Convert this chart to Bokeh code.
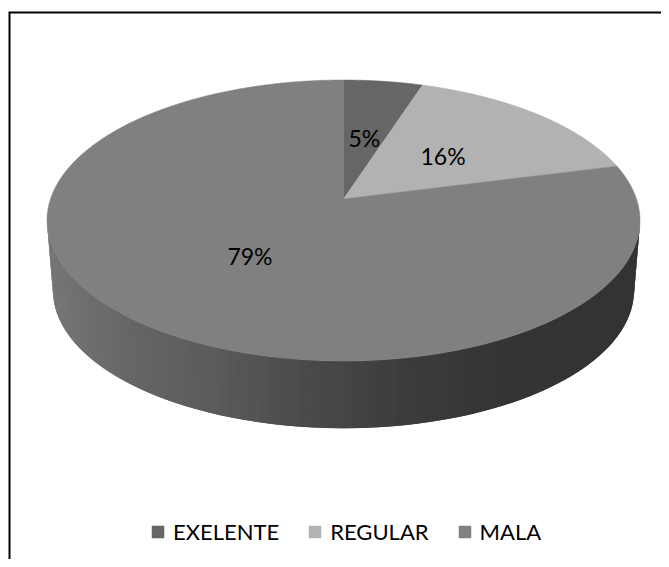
import math
from bokeh.embed import file_html
from bokeh.resources import INLINE
from bokeh.models import Range1d, Legend, LegendItem
from bokeh.plotting import figure
from bokeh.core.properties import value

categories = ["EXELENTE", "REGULAR", "MALA"]
percent = [5, 16, 79]
labels = ["5%", "16%", "79%"]
colors = ["#666666", "#b2b2b2", "#808080"]

W, H = 661, 559
APEX_X, APEX_Y = 343, 198.5
A, B, K = 293.0, 137.2, 0.153
DEPTH_Y, DEPTH_S = 70.5, 0.98


def top(theta, r=1.0):
    u, v = r * math.sin(theta), r * math.cos(theta)
    d = 1 + K * v
    return APEX_X + A * u / d, APEX_Y - B * v / d


def bottom(theta):
    x, y = top(theta)
    return APEX_X + (x - APEX_X) * DEPTH_S, APEX_Y + DEPTH_Y + (y - APEX_Y) * DEPTH_S


def shade(x):
    stops = [(39, 0x78), (120, 0x66), (200, 0x5c), (300, 0x4a), (400, 0x3c), (500, 0x34), (640, 0x33)]
    for (x0, g0), (x1, g1) in zip(stops, stops[1:]):
        if x <= x1:
            g = g0 + (g1 - g0) * (max(x, x0) - x0) / (x1 - x0)
            break
    else:
        g = stops[-1][1]
    g = int(round(g))
    return f"#{g:02x}{g:02x}{g:02x}"


p = figure(width=W, height=H, x_range=Range1d(0, W), y_range=Range1d(H, 0),
           output_backend="svg", toolbar_location=None, min_border=0,
           background_fill_color="white", border_fill_color="white")
p.xaxis.visible = False
p.yaxis.visible = False
p.xgrid.visible = False
p.ygrid.visible = False
p.outline_line_color = None

# frame: only the left and top edges are inside the picture
p.line([9, 9, W], [H, 12, 12], line_color="black", line_width=2, line_join="miter")

# front wall: overlapping strips, painted left to right
t0 = math.acos(-K)
t1 = 2 * math.pi - t0
N = 90
xs, ys, cs = [], [], []
for i in range(N):
    a = t1 - (t1 - t0) * i / N
    b = t1 - (t1 - t0) * min(i + 2, N) / N
    ta, tb, ba, bb = top(a), top(b), bottom(a), bottom(b)
    xs.append([ta[0], tb[0], bb[0], ba[0]])
    ys.append([ta[1], tb[1], bb[1], ba[1]])
    cs.append(shade(ta[0]))
p.patches(xs, ys, fill_color=cs, line_color=None)

# top face
total = sum(percent)
cum = 0.0
items = []
lx, ly = [], []
for cat, val, col in zip(categories, percent, colors):
    s = 2 * math.pi * cum / total
    e = 2 * math.pi * (cum + val) / total
    n = max(4, int(val * 6))
    pts = [top(s + (e - s) * i / n) for i in range(n + 1)]
    px = [APEX_X] + [q[0] for q in pts]
    py = [APEX_Y] + [q[1] for q in pts]
    r = p.patch(px, py, fill_color=col, line_color=col, line_width=0.5)
    items.append(LegendItem(label=cat, renderers=[r]))
    q = top((s + e) / 2, 0.49)
    lx.append(q[0])
    ly.append(q[1])
    cum += val

p.text(lx, ly, text=labels, text_font=value("Lato"), text_font_size="23px", y_offset=1,
       text_color="black", text_align="center", text_baseline="middle")

legend = Legend(items=items, orientation="horizontal", location=(150, 14),
                glyph_width=15, glyph_height=15, label_standoff=8, spacing=28,
                padding=0, margin=0, border_line_color=None, background_fill_alpha=0,
                label_text_font="Lato", label_text_font_size="22px", label_text_color="black")
p.add_layout(legend, "center")

open("out.html", "w").write(file_html(p, INLINE))
